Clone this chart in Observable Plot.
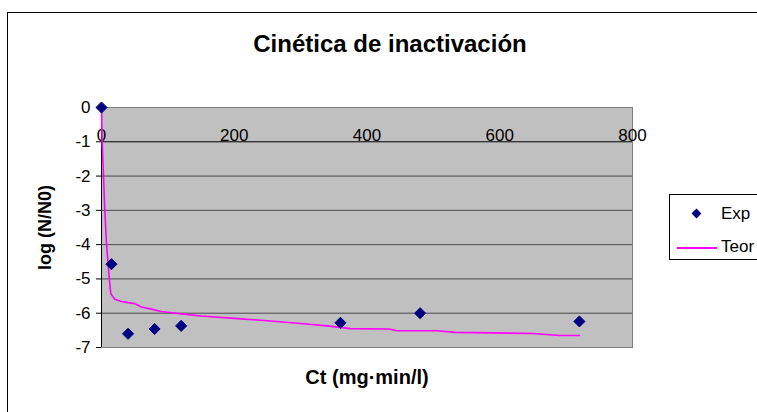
<!DOCTYPE html>
<html>
<head>
<meta charset="utf-8">
<script src="https://cdn.jsdelivr.net/npm/d3@7"></script>
<script src="https://cdn.jsdelivr.net/npm/@observablehq/plot@0.6"></script>
<style>
  html, body { margin: 0; padding: 0; background: #fff; }
  #wrap { position: relative; width: 757px; height: 412px; overflow: hidden; font-family: "Liberation Sans", Arial, sans-serif; }
  #outer { position: absolute; left: 7px; top: 12px; width: 820px; height: 460px; border: 1px solid #000; box-sizing: border-box; }
  #title { position: absolute; left: 0; top: 30px; width: 780px; text-align: center; font-weight: bold; font-size: 24px; line-height: 28px; }
  #chart { position: absolute; left: 0; top: 70px; }
  #legend { position: absolute; left: 669px; top: 194px; width: 120px; height: 66px; border: 1px solid #000; box-sizing: border-box; background: #fff; font-size: 17px; }
  .row { position: absolute; left: 0; height: 20px; line-height: 20px; }
  .diam { position: absolute; left: 23px; top: 6px; width: 7px; height: 7px; background: #000080; transform: rotate(45deg); }
  .ln { position: absolute; left: 7px; top: 10px; width: 40px; height: 2px; background: #ff00ff; }
  .lab { position: absolute; left: 51px; top: 0; }
</style>
</head>
<body>
<div id="wrap">
  <div id="outer"></div>
  <div id="title"></div>
  <div id="chart"></div>
  <div id="legend">
    <div class="row" style="top:9px;width:100px"><div class="diam"></div><div class="lab" id="lab1"></div></div>
    <div class="row" style="top:42px;width:100px"><div class="ln"></div><div class="lab" id="lab2"></div></div>
  </div>
</div>
<script>
const titleText = "Cinética de inactivación";
const xLabel = "Ct (mg·min/l)";
const yLabel = "log (N/N0)";
const seriesNames = ["Exp", "Teor"];

const ctExp = [0, 15, 40, 80, 120, 360, 480, 720];
const logExp = [0, -4.57, -6.6, -6.46, -6.37, -6.28, -6.0, -6.24];

const ctTeor = [0, 1, 3, 5, 7.5, 12, 14, 20, 30, 40, 50, 60, 75, 90, 120, 150, 200, 250, 300, 340, 375, 433, 445, 505, 533, 650, 690, 720];
const logTeor = [0, -1, -2, -3, -3.97, -5.05, -5.43, -5.59, -5.66, -5.69, -5.72, -5.82, -5.88, -5.95, -6.02, -6.08, -6.15, -6.22, -6.3, -6.37, -6.45, -6.46, -6.51, -6.51, -6.56, -6.59, -6.65, -6.65];

const xTicks = [0, 200, 400, 600, 800];
const yTicks = [0, -1, -2, -3, -4, -5, -6, -7];
const yGrid = [-2, -3, -4, -5, -6];
const xCross = -1;

const exp = ctExp.map((x, i) => ({x, y: logExp[i]}));
const teor = ctTeor.map((x, i) => ({x, y: logTeor[i]}));

document.getElementById("title").textContent = titleText;
document.getElementById("lab1").textContent = seriesNames[0];
document.getElementById("lab2").textContent = seriesNames[1];

const chart = Plot.plot({
  width: 757,
  height: 342,
  marginLeft: 101,
  marginRight: 125,
  marginTop: 37,
  marginBottom: 65,
  x: {domain: [0, 800], axis: null},
  y: {domain: [-7, 0], axis: null},
  style: {fontFamily: "'Liberation Sans', Arial, sans-serif", fontSize: "17px", color: "#000", background: "transparent", overflow: "visible"},
  marks: [
    Plot.frame({fill: "#C0C0C0"}),
    Plot.ruleY(yGrid, {stroke: "#4a4a4a"}),
    Plot.frame({stroke: "#808080"}),
    Plot.ruleY([xCross], {stroke: "#000"}),
    Plot.ruleX([0], {stroke: "#000"}),
    Plot.axisY(yTicks, {label: null, tickSize: 5, tickPadding: 6, tickFormat: d => String(d), fontSize: 17}),
    Plot.text(xTicks, {x: d => d, y: () => xCross, text: d => String(d), lineAnchor: "bottom", dy: -1, fontSize: 17}),
    Plot.line(teor, {x: "x", y: "y", stroke: "#ff00ff", strokeWidth: 1.6}),
    Plot.dot(exp, {x: "x", y: "y", symbol: "diamond2", r: 5, fill: "#000080", stroke: "#000080", strokeWidth: 1}),
    Plot.text([yLabel], {text: d => d, frameAnchor: "left", textAnchor: "middle", dx: -56, rotate: -90, fontWeight: "bold", fontSize: 18}),
    Plot.text([xLabel], {text: d => d, frameAnchor: "bottom", textAnchor: "middle", dy: 36, fontWeight: "bold", fontSize: 20})
  ]
});
document.getElementById("chart").appendChild(chart);
</script>
</body>
</html>
